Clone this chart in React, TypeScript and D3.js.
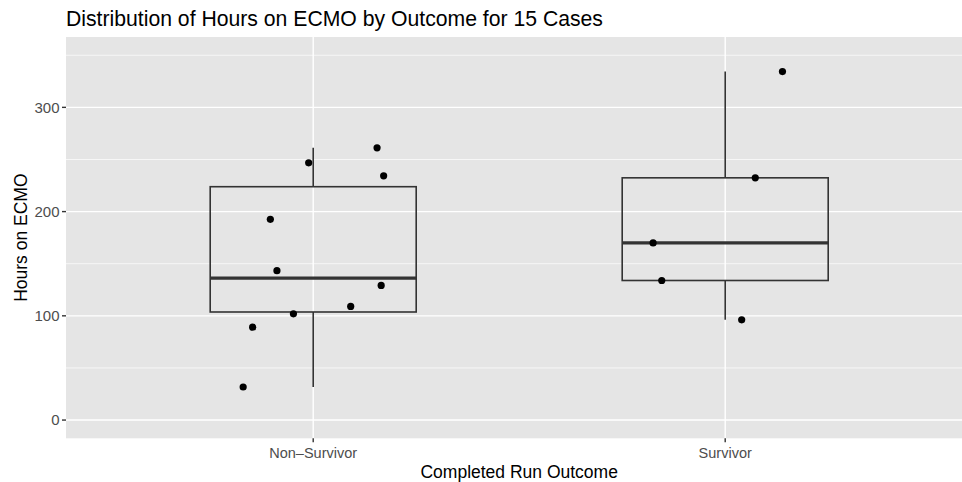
import React, { useEffect } from 'react';
import * as d3 from 'd3';

const categories = ['Non\u2013Survivor', 'Survivor'];

// hours on ECMO per case, grouped by outcome
const nonSurvivorHours = [246.8, 261.2, 234.3, 192.6, 143.3, 129.2, 109.0, 101.9, 89.1, 31.7];
const survivorHours = [334.3, 232.4, 169.9, 133.9, 96.2];

// horizontal jitter of each point, in category units
const nonSurvivorJitter = [-0.011, 0.155, 0.171, -0.104, -0.088, 0.165, 0.091, -0.048, -0.147, -0.17];
const survivorJitter = [0.139, 0.073, -0.175, -0.154, 0.04];

const yTicks = [0, 100, 200, 300];
const yMinor = [50, 150, 250, 350];

const W = 962;
const H = 482;
const FONT = '"Liberation Sans", Arial, Helvetica, sans-serif';

const boxStats = (vals: number[]) => {
  const s = [...vals].sort(d3.ascending);
  const q1 = d3.quantile(s, 0.25)!;
  const med = d3.quantile(s, 0.5)!;
  const q3 = d3.quantile(s, 0.75)!;
  const iqr = q3 - q1;
  const lo = d3.min(s.filter(v => v >= q1 - 1.5 * iqr))!;
  const hi = d3.max(s.filter(v => v <= q3 + 1.5 * iqr))!;
  return { q1, med, q3, lo, hi };
};

const App: React.FC = () => {
  useEffect(() => {
    document.body.style.margin = '0';
  }, []);

  const panel = { left: 66, top: 37, bottom: 438.3 };
  const unit = 412;
  const x = d3.scaleLinear().domain([0.4, 2.6]).range([panel.left, panel.left + 2.2 * unit]);
  const y = d3.scaleLinear().domain([-17.5, 367.5]).range([panel.bottom, panel.top]);
  const right = x(2.6);

  const groups = [
    { name: categories[0], pos: 1, hours: nonSurvivorHours, jitter: nonSurvivorJitter },
    { name: categories[1], pos: 2, hours: survivorHours, jitter: survivorJitter },
  ];

  return (
    <svg width={W} height={H} style={{ display: 'block', background: '#fff' }} fontFamily={FONT}>
      <text x={panel.left} y={25.5} fontSize={21.2} fill="#000">
        Distribution of Hours on ECMO by Outcome for 15 Cases
      </text>

      {/* panel */}
      <rect x={panel.left} y={panel.top} width={right - panel.left} height={panel.bottom - panel.top} fill="#e5e5e5" />
      {yMinor.map(t => (
        <line key={'m' + t} x1={panel.left} x2={right} y1={y(t)} y2={y(t)} stroke="#fff" strokeWidth={0.7} />
      ))}
      {yTicks.map(t => (
        <line key={'g' + t} x1={panel.left} x2={right} y1={y(t)} y2={y(t)} stroke="#fff" strokeWidth={1.4} />
      ))}
      {groups.map(g => (
        <line key={'v' + g.pos} x1={x(g.pos)} x2={x(g.pos)} y1={panel.top} y2={panel.bottom} stroke="#fff" strokeWidth={1.4} />
      ))}

      {/* boxes */}
      {groups.map(g => {
        const s = boxStats(g.hours);
        const cx = x(g.pos);
        const x0 = x(g.pos - 0.25);
        const x1 = x(g.pos + 0.25);
        return (
          <g key={'b' + g.pos} stroke="#333" fill="none">
            <line x1={cx} x2={cx} y1={y(s.q3)} y2={y(s.hi)} strokeWidth={1.6} />
            <line x1={cx} x2={cx} y1={y(s.q1)} y2={y(s.lo)} strokeWidth={1.6} />
            <rect x={x0} y={y(s.q3)} width={x1 - x0} height={y(s.q1) - y(s.q3)} strokeWidth={1.6} />
            <line x1={x0} x2={x1} y1={y(s.med)} y2={y(s.med)} strokeWidth={3.2} />
          </g>
        );
      })}

      {/* points */}
      {groups.map(g =>
        g.hours.map((v, i) => (
          <circle key={'p' + g.pos + i} cx={x(g.pos + g.jitter[i])} cy={y(v)} r={3.6} fill="#000" />
        ))
      )}

      {/* y axis */}
      {yTicks.map(t => (
        <g key={'yt' + t}>
          <line x1={panel.left - 4} x2={panel.left} y1={y(t)} y2={y(t)} stroke="#333" strokeWidth={1.4} />
          <text x={panel.left - 6.5} y={y(t)} dy="0.35em" textAnchor="end" fontSize={15} fill="#4d4d4d">
            {t}
          </text>
        </g>
      ))}

      {/* x axis */}
      {groups.map(g => (
        <g key={'xt' + g.pos}>
          <line x1={x(g.pos)} x2={x(g.pos)} y1={panel.bottom} y2={panel.bottom + 4} stroke="#333" strokeWidth={1.4} />
          <text x={x(g.pos)} y={458} textAnchor="middle" fontSize={14.5} fill="#4d4d4d">
            {g.name}
          </text>
        </g>
      ))}

      <text x={(panel.left + right) / 2} y={478} textAnchor="middle" fontSize={17.5} fill="#000">
        Completed Run Outcome
      </text>
      <text
        transform={`translate(27, ${(panel.top + panel.bottom) / 2}) rotate(-90)`}
        textAnchor="middle"
        fontSize={17.5}
        fill="#000"
      >
        Hours on ECMO
      </text>
    </svg>
  );
};

export default App;
